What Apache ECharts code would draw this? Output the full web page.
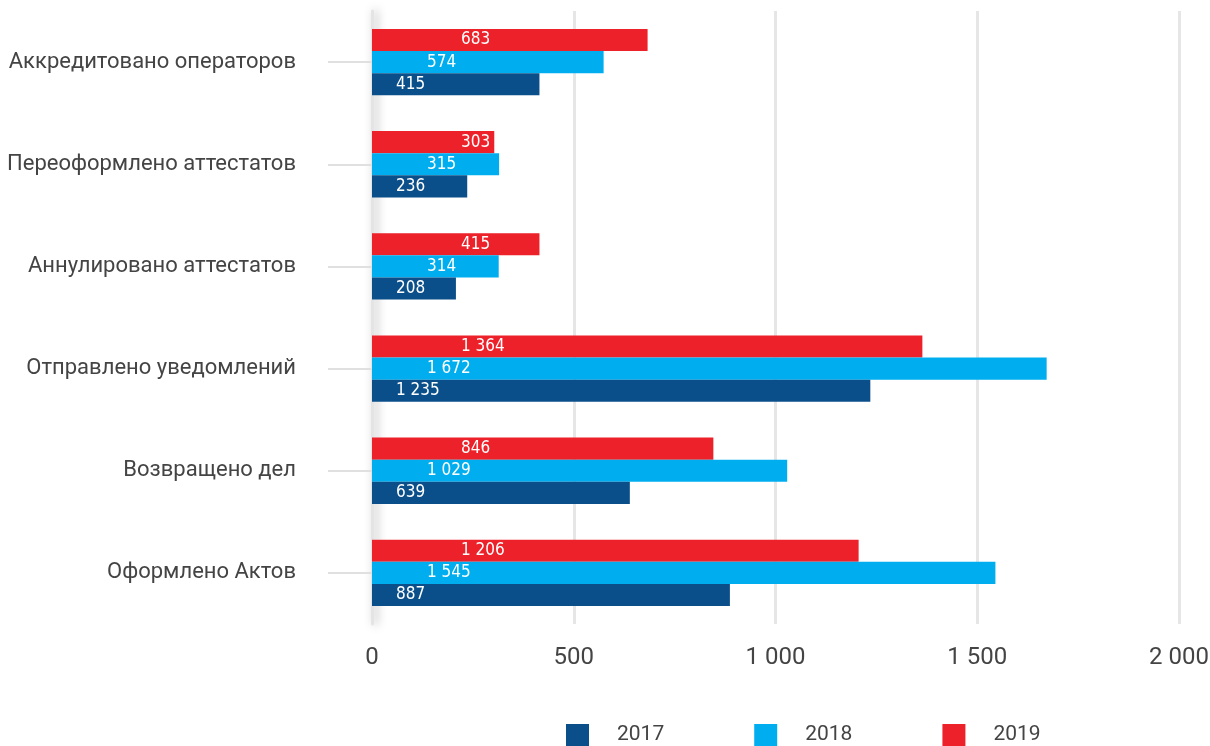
<!DOCTYPE html>
<html>
<head>
<meta charset="utf-8">
<script src="https://cdn.jsdelivr.net/npm/echarts@6/dist/echarts.min.js"></script>
<style>
html,body{margin:0;padding:0;background:#fff;}
#chart{width:1210px;height:746px;}
</style>
</head>
<body>
<div id="chart"></div>
<script>
const categories = ['Аккредитовано операторов','Переоформлено аттестатов','Аннулировано аттестатов','Отправлено уведомлений','Возвращено дел','Оформлено Актов'];
const years = ['2017','2018','2019'];
const values2017 = [415, 236, 208, 1235, 639, 887];
const values2018 = [574, 315, 314, 1672, 1029, 1545];
const values2019 = [683, 303, 415, 1364, 846, 1206];
const xTicks = [0, 500, 1000, 1500, 2000];

const colors = {'2017':'#0b4f8a','2018':'#00aeef','2019':'#ed2129'};
const labelOffsets = {'2017':24,'2018':55,'2019':89};
const fmt = v => String(v).replace(/\B(?=(\d{3})+(?!\d))/g, ' ');
const valueFont = '"DejaVu Sans Condensed","Liberation Sans Narrow",sans-serif';
const textFont = 'Roboto,"Open Sans",sans-serif';

function mk(name, data){
  return {
    name: name, type: 'bar', yAxisIndex: 0, data: data,
    barGap: '0%', barCategoryGap: '35%',
    itemStyle: {color: colors[name]},
    label: {
      show: true, position: [labelOffsets[name], '50%'], align: 'left', verticalAlign: 'middle',
      color: '#fff', fontSize: 17, fontFamily: valueFont,
      formatter: p => fmt(p.value)
    }
  };
}

const chart = echarts.init(document.getElementById('chart'), null, {renderer:'canvas'});
chart.setOption({
  animation: false,
  grid: {left: 372, right: 31, top: 11, bottom: 122, containLabel: false, outerBoundsMode: 'none'},
  legend: {
    data: years, left: 566, top: 724, padding: 0, itemWidth: 23, itemHeight: 22, itemGap: 90,
    icon: 'rect',
    textStyle: {fontFamily: textFont, fontSize: 21, color: '#444', padding: [0,0,0,23]}
  },
  xAxis: {
    type: 'value', min: xTicks[0], max: xTicks[xTicks.length-1], interval: 500,
    axisLine: {show: false}, axisTick: {show: false},
    axisLabel: {margin: 22, fontSize: 24, color: '#444', fontFamily: textFont, formatter: v => fmt(v)},
    splitLine: {show: true, lineStyle: {color: '#e6e6e6', width: 3}}
  },
  yAxis: [{
    type: 'category', data: categories, inverse: true, position: 'left', offset: 0,
    axisLine: {show: false},
    axisTick: {show: true, alignWithLabel: true, length: 44, lineStyle: {color: '#e0e0e0', width: 2}},
    axisLabel: {margin: 76, fontSize: 22, color: '#444', fontFamily: textFont}
  },{
    type: 'category', data: categories, inverse: true, position: 'left', offset: 0,
    axisLine: {show: true, lineStyle: {color: '#e4e4e4', width: 3, shadowColor: 'rgba(0,0,0,0.35)', shadowBlur: 10, shadowOffsetX: 3}},
    axisTick: {show: false}, axisLabel: {show: false}
  }],
  series: [mk('2019', values2019), mk('2018', values2018), mk('2017', values2017)]
});
</script>
</body>
</html>
